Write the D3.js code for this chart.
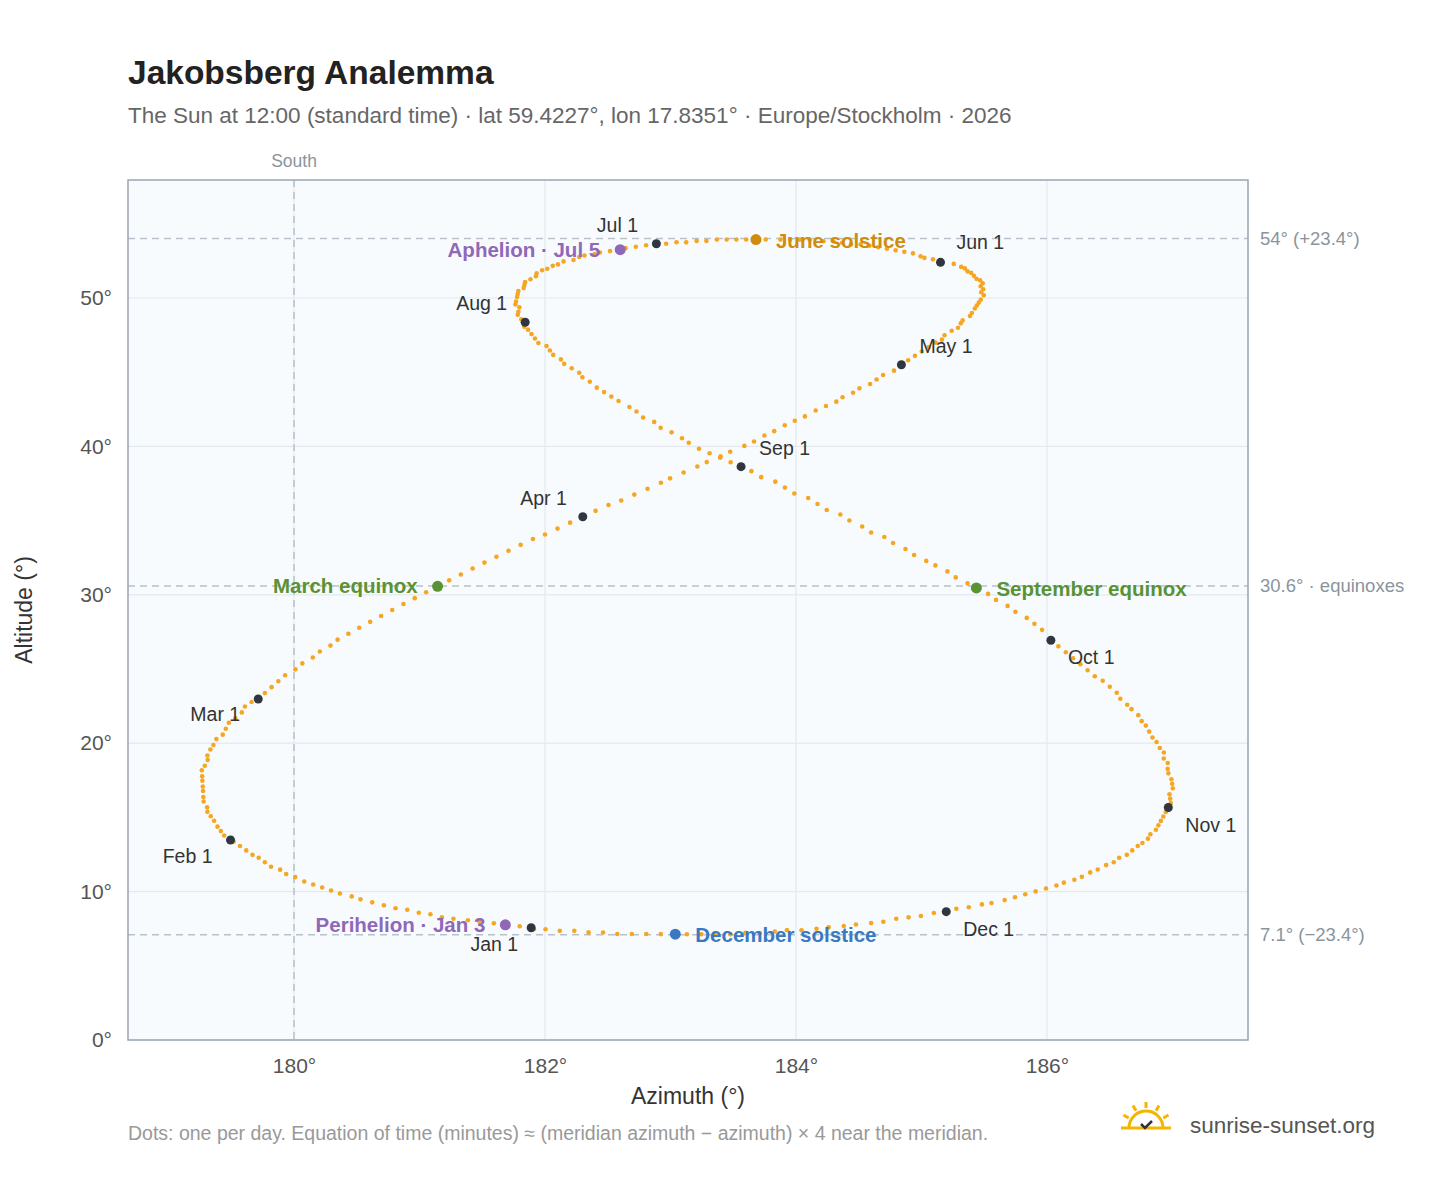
<!DOCTYPE html>
<html><head><meta charset="utf-8">
<script src="https://cdn.jsdelivr.net/npm/d3@7"></script>
<style>body{margin:0;background:#fff;font-family:"Liberation Sans",Arial,sans-serif}</style>
</head><body><svg id="c" width="1448" height="1188"></svg>
<script>
// Daily solar declination (deg) and equation of time (min), one array per month
const declination = [
[-23.0,-22.9,-22.8,-22.7,-22.6,-22.5,-22.4,-22.3,-22.1,-22.0,-21.8,-21.7,-21.5,-21.3,-21.1,-20.9,-20.7,-20.5,-20.3,-20.1,-19.9,-19.6,-19.4,-19.1,-18.9,-18.6,-18.3,-18.1,-17.8,-17.5,-17.2],
[-17.1,-16.8,-16.5,-16.2,-15.8,-15.5,-15.2,-14.9,-14.5,-14.2,-13.8,-13.5,-13.1,-12.8,-12.4,-12.1,-11.7,-11.4,-11.0,-10.7,-10.3,-10.0,-9.6,-9.2,-8.9,-8.5,-8.1,-7.8],
[-7.6,-7.2,-6.8,-6.4,-6.0,-5.6,-5.2,-4.8,-4.4,-4.0,-3.6,-3.2,-2.8,-2.4,-2.0,-1.6,-1.2,-0.8,-0.4,0.0,0.4,0.8,1.2,1.6,2.0,2.4,2.8,3.2,3.5,3.9,4.3],
[4.7,5.1,5.5,5.8,6.2,6.6,7.0,7.3,7.7,8.1,8.4,8.8,9.1,9.5,9.8,10.2,10.5,10.9,11.2,11.5,11.9,12.2,12.5,12.8,13.1,13.4,13.7,14.0,14.3,14.6],
[15.0,15.3,15.6,15.9,16.2,16.5,16.7,17.0,17.3,17.5,17.8,18.0,18.3,18.5,18.8,19.0,19.2,19.4,19.7,19.9,20.1,20.3,20.5,20.7,20.8,21.0,21.2,21.3,21.5,21.6,21.8],
[21.9,22.1,22.2,22.3,22.5,22.6,22.7,22.8,22.9,23.0,23.1,23.1,23.2,23.3,23.3,23.4,23.4,23.4,23.4,23.4,23.4,23.4,23.4,23.4,23.4,23.3,23.3,23.2,23.2,23.1],
[23.1,23.0,22.9,22.8,22.7,22.6,22.5,22.4,22.3,22.2,22.0,21.9,21.7,21.6,21.4,21.3,21.1,20.9,20.7,20.5,20.3,20.1,19.9,19.7,19.5,19.2,19.0,18.8,18.5,18.3,18.0],
[17.8,17.5,17.3,17.0,16.7,16.4,16.2,15.9,15.6,15.3,15.0,14.7,14.4,14.1,13.8,13.4,13.1,12.8,12.5,12.1,11.8,11.4,11.1,10.7,10.4,10.0,9.7,9.3,9.0,8.7,8.4],
[8.1,7.8,7.4,7.1,6.7,6.3,6.0,5.6,5.2,4.9,4.5,4.1,3.7,3.4,3.0,2.6,2.2,1.8,1.5,1.1,0.7,0.3,0.0,-0.4,-0.8,-1.2,-1.6,-2.0,-2.4,-2.8],
[-3.5,-3.9,-4.3,-4.7,-5.1,-5.5,-5.9,-6.2,-6.6,-7.0,-7.4,-7.8,-8.1,-8.5,-8.9,-9.2,-9.6,-10.0,-10.3,-10.7,-11.0,-11.4,-11.7,-12.1,-12.4,-12.8,-13.1,-13.4,-13.8,-14.1,-14.4],
[-14.7,-15.0,-15.3,-15.6,-15.9,-16.2,-16.5,-16.8,-17.1,-17.3,-17.6,-17.9,-18.1,-18.4,-18.6,-18.9,-19.1,-19.4,-19.6,-19.8,-20.0,-20.2,-20.4,-20.6,-20.8,-21.0,-21.2,-21.3,-21.5,-21.6],
[-21.8,-21.9,-22.1,-22.2,-22.3,-22.5,-22.6,-22.7,-22.8,-22.9,-23.0,-23.1,-23.1,-23.2,-23.3,-23.3,-23.4,-23.4,-23.4,-23.4,-23.4,-23.4,-23.4,-23.4,-23.4,-23.3,-23.3,-23.2,-23.2,-23.1,-23.1]];
const equationOfTime = [
[-3.2,-3.6,-4.1,-4.5,-5.0,-5.4,-5.9,-6.3,-6.7,-7.1,-7.5,-7.9,-8.3,-8.7,-9.1,-9.4,-9.8,-10.1,-10.4,-10.7,-11.0,-11.3,-11.6,-11.8,-12.1,-12.3,-12.5,-12.7,-12.9,-13.1,-13.3],
[-13.4,-13.6,-13.7,-13.8,-13.9,-14.0,-14.1,-14.1,-14.2,-14.2,-14.2,-14.2,-14.2,-14.2,-14.2,-14.1,-14.0,-14.0,-13.9,-13.8,-13.7,-13.5,-13.4,-13.3,-13.1,-12.9,-12.8,-12.6],
[-12.4,-12.2,-12.0,-11.8,-11.6,-11.3,-11.1,-10.8,-10.6,-10.3,-10.1,-9.8,-9.5,-9.2,-8.9,-8.6,-8.3,-8.0,-7.7,-7.4,-7.1,-6.8,-6.5,-6.2,-5.9,-5.6,-5.3,-5.0,-4.7,-4.4,-4.1],
[-3.8,-3.5,-3.2,-2.9,-2.6,-2.3,-2.0,-1.8,-1.5,-1.2,-1.0,-0.7,-0.5,-0.2,0.0,0.2,0.4,0.6,0.8,1.0,1.2,1.4,1.6,1.7,1.9,2.0,2.2,2.3,2.4,2.6],
[2.7,2.8,2.9,3.0,3.1,3.2,3.3,3.3,3.4,3.5,3.5,3.5,3.6,3.6,3.6,3.6,3.6,3.6,3.6,3.5,3.5,3.4,3.4,3.3,3.2,3.1,3.0,2.9,2.8,2.7,2.5],
[2.2,2.0,1.8,1.7,1.5,1.3,1.1,0.9,0.7,0.5,0.3,0.1,-0.1,-0.3,-0.5,-0.8,-1.0,-1.2,-1.4,-1.7,-1.9,-2.1,-2.3,-2.5,-2.7,-2.9,-3.1,-3.3,-3.5,-3.7],
[-3.9,-4.1,-4.3,-4.5,-4.6,-4.8,-5.0,-5.1,-5.3,-5.4,-5.5,-5.7,-5.8,-5.9,-6.0,-6.1,-6.2,-6.2,-6.3,-6.4,-6.4,-6.4,-6.5,-6.5,-6.5,-6.5,-6.5,-6.4,-6.4,-6.4,-6.3],
[-6.2,-6.2,-6.1,-6.0,-5.9,-5.8,-5.6,-5.5,-5.4,-5.2,-5.1,-4.9,-4.7,-4.6,-4.4,-4.2,-4.0,-3.8,-3.6,-3.3,-3.1,-2.9,-2.6,-2.4,-2.1,-1.8,-1.6,-1.3,-1.0,-0.7,-0.4],
[-0.1,0.2,0.5,0.9,1.2,1.5,1.9,2.2,2.5,2.9,3.2,3.6,3.9,4.3,4.6,5.0,5.3,5.7,6.0,6.4,6.7,7.1,7.4,7.8,8.1,8.5,8.8,9.2,9.5,9.8],
[10.2,10.5,10.8,11.1,11.4,11.7,12.0,12.3,12.6,12.9,13.1,13.4,13.6,13.9,14.1,14.3,14.5,14.7,14.9,15.1,15.3,15.4,15.6,15.7,15.8,16.0,16.1,16.2,16.2,16.3,16.4],
[16.4,16.4,16.4,16.4,16.4,16.4,16.3,16.3,16.2,16.1,16.0,15.9,15.7,15.6,15.4,15.2,15.0,14.8,14.6,14.3,14.1,13.8,13.5,13.2,12.9,12.6,12.2,11.9,11.5,11.1],
[10.8,10.4,10.0,9.6,9.2,8.8,8.4,7.9,7.5,7.0,6.6,6.1,5.6,5.2,4.7,4.2,3.7,3.2,2.7,2.2,1.8,1.3,0.8,0.3,-0.2,-0.7,-1.2,-1.7,-2.2,-2.7,-3.1]];
const monthNames = ["Jan","Feb","Mar","Apr","May","Jun","Jul","Aug","Sep","Oct","Nov","Dec"];
const monthLabelPos = [[-13,23,"end"],[-18,23,"end"],[-18,22,"end"],[-16,-12,"end"],[18,-12,"start"],[16,-13,"start"],[-39,-12,"middle"],[-18,-12,"end"],[18,-12,"start"],[17,24,"start"],[17,24,"start"],[17,24,"start"]];
const events = [
 {name:"Perihelion · Jan 3", m:0, d:3, color:"#8f68b8", dx:-20, dy:7, anchor:"end"},
 {name:"March equinox", m:2, d:20, color:"#5a9236", dx:-20, dy:7, anchor:"end"},
 {name:"June solstice", m:5, d:21, color:"#d08c0c", dx:20, dy:8, anchor:"start"},
 {name:"Aphelion · Jul 5", m:6, d:5, color:"#8f68b8", dx:-20, dy:7, anchor:"end"},
 {name:"September equinox", m:8, d:23, color:"#5a9236", dx:20, dy:8, anchor:"start"},
 {name:"December solstice", m:11, d:21, color:"#3a78c2", dx:20, dy:8, anchor:"start"}];
const refLines = [{v:54.0,t:"54° (+23.4°)"},{v:30.6,t:"30.6° · equinoxes"},{v:7.1,t:"7.1° (−23.4°)"}];
const xTicks = [180,182,184,186], yTicks = [0,10,20,30,40,50];
const LAT = 59.4227, LON = 17.8351, ZONE_MERIDIAN = 15;

const rad = Math.PI/180;
function horiz(dec, eot){
  const H = ((LON-ZONE_MERIDIAN)*4 + eot) * 0.25 * rad;
  const d = dec*rad, p = LAT*rad;
  const alt = Math.asin(Math.sin(p)*Math.sin(d)+Math.cos(p)*Math.cos(d)*Math.cos(H));
  const az = Math.atan2(Math.sin(H), Math.cos(H)*Math.sin(p)-Math.tan(d)*Math.cos(p))/rad + 180;
  return {az, alt: alt/rad};
}
const days = [];
declination.forEach((arr,m)=>arr.forEach((dec,i)=>days.push({m, d:i+1, ...horiz(dec, equationOfTime[m][i])})));
const find=(m,d)=>days.find(p=>p.m===m&&p.d===d);

const svg = d3.select("#c");
const L=128,R=1248,T=180,B=1040;
const x = d3.scaleLinear().domain([178.677,187.602]).range([L,R]);
const y = d3.scaleLinear().domain([0,57.95]).range([B,T]);
const g = svg.append("g");
g.append("rect").attr("x",L).attr("y",T).attr("width",R-L).attr("height",B-T).attr("fill","#f8fbfd");
g.selectAll(".gx").data(xTicks).join("line").attr("x1",d=>x(d)).attr("x2",d=>x(d)).attr("y1",T).attr("y2",B).attr("stroke","#e3e9ef").attr("stroke-width",1.2);
g.selectAll(".gy").data(yTicks).join("line").attr("y1",d=>y(d)).attr("y2",d=>y(d)).attr("x1",L).attr("x2",R).attr("stroke","#e3e9ef").attr("stroke-width",1.2);
refLines.forEach(r=>{
  g.append("line").attr("x1",L).attr("x2",R).attr("y1",y(r.v)).attr("y2",y(r.v)).attr("stroke","#b7c2cc").attr("stroke-width",1.5).attr("stroke-dasharray","7,5");
  svg.append("text").attr("x",1260).attr("y",y(r.v)+6).text(r.t).attr("font-size",18.5).attr("fill","#8a949c");
});
g.append("line").attr("x1",x(180)).attr("x2",x(180)).attr("y1",T).attr("y2",B).attr("stroke","#b7c2cc").attr("stroke-width",1.5).attr("stroke-dasharray","7,5");
svg.append("text").attr("x",x(180)).attr("y",167).attr("text-anchor","middle").text("South").attr("font-size",17.5).attr("fill","#8a949c");
g.append("rect").attr("x",L).attr("y",T).attr("width",R-L).attr("height",B-T).attr("fill","none").attr("stroke","#9aa5b1").attr("stroke-width",1.5);

g.selectAll(".day").data(days).join("circle").attr("cx",d=>x(d.az)).attr("cy",d=>y(d.alt)).attr("r",2.3).attr("fill","#f5a623");
monthNames.forEach((n,m)=>{
  const p=find(m,1), o=monthLabelPos[m];
  g.append("circle").attr("cx",x(p.az)).attr("cy",y(p.alt)).attr("r",4.5).attr("fill","#2f3640");
  g.append("text").attr("x",x(p.az)+o[0]).attr("y",y(p.alt)+o[1]).attr("text-anchor",o[2]).text(n+" 1").attr("font-size",19.5).attr("fill","#333");
});
events.forEach(e=>{
  const p=find(e.m,e.d);
  g.append("circle").attr("cx",x(p.az)).attr("cy",y(p.alt)).attr("r",5.5).attr("fill",e.color);
  g.append("text").attr("x",x(p.az)+e.dx).attr("y",y(p.alt)+e.dy).attr("text-anchor",e.anchor).text(e.name).attr("font-size",20.5).attr("font-weight","bold").attr("fill",e.color);
});

svg.append("g").attr("transform",`translate(0,${B})`).call(d3.axisBottom(x).tickValues(xTicks).tickFormat(d=>d+"°").tickSize(0).tickPadding(18))
  .call(a=>a.select(".domain").remove()).selectAll("text").attr("font-size",21).attr("fill","#555").attr("font-family","Liberation Sans, Arial");
svg.append("g").attr("transform",`translate(${L},0)`).call(d3.axisLeft(y).tickValues(yTicks).tickFormat(d=>d+"°").tickSize(0).tickPadding(16))
  .call(a=>a.select(".domain").remove()).selectAll("text").attr("font-size",21).attr("fill","#555").attr("font-family","Liberation Sans, Arial");
svg.append("text").attr("x",688).attr("y",1104).attr("text-anchor","middle").text("Azimuth (°)").attr("font-size",23).attr("fill","#333");
svg.append("text").attr("transform","translate(32,610) rotate(-90)").attr("text-anchor","middle").text("Altitude (°)").attr("font-size",23).attr("fill","#333");
svg.append("text").attr("x",128).attr("y",84).text("Jakobsberg Analemma").attr("font-size",33.5).attr("font-weight","bold").attr("fill","#222");
svg.append("text").attr("x",128).attr("y",123).text("The Sun at 12:00 (standard time) · lat 59.4227°, lon 17.8351° · Europe/Stockholm · 2026").attr("font-size",22.5).attr("fill","#666");
svg.append("text").attr("x",128).attr("y",1140).text("Dots: one per day. Equation of time (minutes) ≈ (meridian azimuth − azimuth) × 4 near the meridian.").attr("font-size",19.5).attr("fill","#999");
const lg=svg.append("g").attr("transform","translate(1146,1128)");
lg.append("path").attr("d","M-17,0 A17,17 0 0 1 17,0").attr("fill","none").attr("stroke","#f5b400").attr("stroke-width",3);
[-150,-120,-90,-60,-30].forEach(a=>{const r1=20,r2=26,t=a*rad;lg.append("line").attr("x1",r1*Math.cos(t)).attr("y1",r1*Math.sin(t)).attr("x2",r2*Math.cos(t)).attr("y2",r2*Math.sin(t)).attr("stroke","#f5b400").attr("stroke-width",3);});
lg.append("line").attr("x1",-25).attr("x2",25).attr("y1",0).attr("y2",0).attr("stroke","#f5b400").attr("stroke-width",3);
lg.append("path").attr("d","M-5,-4 L-1,0 L6,-7").attr("fill","none").attr("stroke","#333").attr("stroke-width",2.5);
svg.append("text").attr("x",1190).attr("y",1133).text("sunrise-sunset.org").attr("font-size",22.5).attr("fill","#555");
</script></body></html>
